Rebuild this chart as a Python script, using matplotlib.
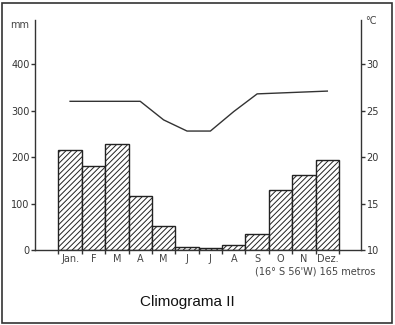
import matplotlib
matplotlib.use("Agg")
import matplotlib.pyplot as plt
from matplotlib.patches import Rectangle
import numpy as np

months = ["Jan.", "F", "M", "A", "M", "J", "J", "A", "S", "O", "N", "Dez."]
precip_mm = [215, 181, 229, 116, 52, 7, 4, 11, 35, 129, 161, 194]
temp_c = [26.0, 26.0, 26.0, 26.0, 24.0, 22.8, 22.8, 24.9, 26.8, 26.9, 27.0, 27.1]
mm_ticks = [0, 100, 200, 300, 400]
c_ticks = [10, 15, 20, 25, 30]
station = "(16° S 56'W) 165 metros"
title = "Climograma II"

plt.rcParams['hatch.linewidth'] = 0.7
plt.rcParams['font.family'] = ['DejaVu Sans']

W, H = 395, 325
fig = plt.figure(figsize=(W / 100, H / 100), dpi=100)
fig.patch.set_facecolor('white')

ax = fig.add_axes([35 / W, 1 - 250 / H, (361 - 35) / W, (250 - 20) / H])
x = np.arange(len(months))
ax.bar(x, precip_mm, width=1.0, facecolor='white', edgecolor='#222222',
       linewidth=1.0, hatch='//////', zorder=2)
ax.set_xlim(-1.5, 12.44)
ax.set_ylim(0, 495)

# temperature on right axis (10 °C at 0 mm, 20 mm per °C)
ax2 = ax.twinx()
ax2.plot(x, temp_c, color='#333333', linewidth=1.0)
ax2.set_ylim(10, 10 + 495 / 20)
ax2.set_xlim(ax.get_xlim())

for a in (ax, ax2):
    a.spines['top'].set_visible(False)
    for s in a.spines.values():
        s.set_color('#333333')
        s.set_linewidth(1.0)
    a.patch.set_visible(False)

ax.spines['right'].set_visible(False)
ax2.spines['left'].set_visible(False)
ax2.spines['bottom'].set_visible(False)

ax.set_yticks(mm_ticks)
ax.set_yticklabels([str(v) for v in mm_ticks], fontsize=7, color='#444444')
ax.tick_params(axis='y', direction='out', length=3, width=1, pad=1, colors='#333333')
ax2.set_yticks(c_ticks)
ax2.set_yticklabels([str(v) for v in c_ticks], fontsize=7, color='#444444')
ax2.tick_params(axis='y', direction='out', length=3, width=1, pad=1, colors='#333333')

ax.set_xticks(x)
ax.set_xticklabels(months, fontsize=7, color='#444444')
ax.set_xticks(np.arange(-0.5, 12, 1.0), minor=True)
ax.tick_params(axis='x', which='major', length=0, pad=3)
ax.tick_params(axis='x', which='minor', length=3, width=1, direction='out', colors='#333333')

fig.text(20 / W, 1 - 25 / H, "mm", fontsize=7, color='#444444', ha='center', va='center')
fig.text(371 / W, 1 - 21 / H, "°C", fontsize=7, color='#444444', ha='center', va='center')
fig.text(375 / W, 1 - 271 / H, station, fontsize=7, color='#444444', ha='right', va='center')
fig.text(187 / W, 1 - 302 / H, title, fontsize=11, color='#111111', ha='center', va='center',
         family=['Liberation Sans', 'DejaVu Sans'])

fig.patches.append(Rectangle((1.5 / W, 2.5 / H), (392 / W) - (1.5 / W), (322 / H) - (2.5 / H),
                             transform=fig.transFigure, fill=False, edgecolor='#333333', linewidth=1.2))

fig.savefig("out.png", dpi=100, facecolor='white')
